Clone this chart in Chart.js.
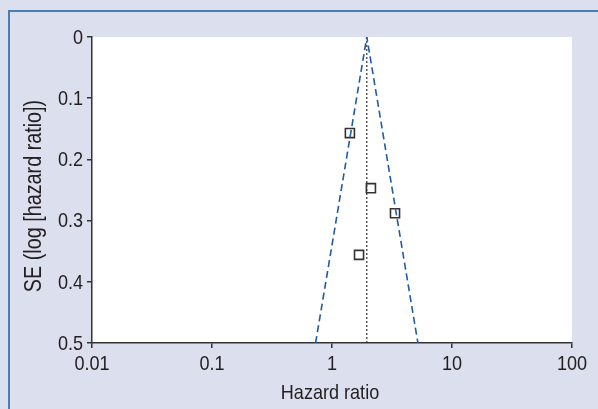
<!DOCTYPE html>
<html>
<head>
<meta charset="utf-8">
<script src="https://cdn.jsdelivr.net/npm/chart.js@4.4.1/dist/chart.umd.min.js"></script>
<style>
  html, body { margin: 0; padding: 0; background: #dcdfee; }
  canvas { display: block; }
</style>
</head>
<body>
<canvas id="myChart" width="598" height="409"></canvas>
<script>
// study points: hazard ratio and its standard error
const hazardRatios = [1.41, 2.11, 3.35, 1.68];
const standardErrors = [0.157, 0.247, 0.288, 0.356];

// pooled estimate and the funnel limits at SE = 0.5
const pooledHR = 1.95;
const funnelLeftHR = 0.73;
const funnelRightHR = 5.2;
const seTop = 0;
const seBottom = 0.5;

const xTicks = [0.01, 0.1, 1, 10, 100];
const xTickLabels = ['0.01', '0.1', '1', '10', '100'];
const yTicks = [0, 0.1, 0.2, 0.3, 0.4, 0.5];
const yTickLabels = ['0', '0.1', '0.2', '0.3', '0.4', '0.5'];
const xTitle = 'Hazard ratio';
const yTitle = 'SE (log [hazard ratio])';

const textColour = '#231f20';
const narrow = 0.86; // squeeze the sans face so it reads like a condensed one

// draws text squeezed horizontally, with (x, y) as the anchor
function narrowText(ctx, text, x, y, align, baseline, size, angle) {
  ctx.save();
  ctx.translate(x, y);
  if (angle) ctx.rotate(angle);
  ctx.scale(narrow, 1);
  ctx.font = size + 'px "Liberation Sans", Arial, sans-serif';
  ctx.fillStyle = textColour;
  ctx.textAlign = align;
  ctx.textBaseline = baseline;
  ctx.fillText(text, 0, 0);
  ctx.restore();
}

const background = {
  id: 'background-colour',
  beforeDraw: (chart) => {
    const ctx = chart.ctx;
    const a = chart.chartArea;
    ctx.save();
    ctx.fillStyle = '#dcdfee';
    ctx.fillRect(0, 0, chart.width, chart.height);
    ctx.strokeStyle = '#4a7cb6';
    ctx.lineWidth = 2;
    ctx.beginPath();
    ctx.moveTo(9, chart.height);
    ctx.lineTo(9, 11);
    ctx.lineTo(chart.width, 11);
    ctx.stroke();
    ctx.fillStyle = '#ffffff';
    ctx.fillRect(a.left, a.top, a.right - a.left, a.bottom - a.top);
    ctx.restore();
  }
};

const labels = {
  id: 'axis-labels',
  afterDraw: (chart) => {
    const ctx = chart.ctx;
    const xs = chart.scales.x;
    const ys = chart.scales.y;
    const a = chart.chartArea;
    xTicks.forEach((v, i) => {
      narrowText(ctx, xTickLabels[i], xs.getPixelForValue(v), a.bottom + 27, 'center', 'alphabetic', 21);
    });
    yTicks.forEach((v, i) => {
      narrowText(ctx, yTickLabels[i], a.left - 9, ys.getPixelForValue(v) + 1, 'right', 'middle', 21);
    });
    narrowText(ctx, xTitle, (a.left + a.right) / 2 - 2, a.bottom + 56, 'center', 'alphabetic', 21);
    narrowText(ctx, yTitle, 41, (a.top + a.bottom) / 2 + 6, 'center', 'alphabetic', 23, -Math.PI / 2);
  }
};

new Chart(document.getElementById('myChart'), {
  type: 'scatter',
  data: {
    datasets: [
      {
        label: 'funnel',
        type: 'line',
        data: [
          { x: funnelLeftHR, y: seBottom },
          { x: pooledHR, y: seTop },
          { x: funnelRightHR, y: seBottom }
        ],
        borderColor: '#1f5ba6',
        borderWidth: 1.6,
        borderDash: [7, 4],
        pointRadius: 0,
        fill: false,
        tension: 0
      },
      {
        label: 'pooled',
        type: 'line',
        data: [
          { x: pooledHR, y: seTop },
          { x: pooledHR, y: seBottom }
        ],
        borderColor: '#333333',
        borderWidth: 1.2,
        borderDash: [2, 2],
        pointRadius: 0,
        fill: false
      },
      {
        label: 'studies',
        data: hazardRatios.map((hr, i) => ({ x: hr, y: standardErrors[i] })),
        pointStyle: 'rect',
        pointRadius: 6.4,
        pointBorderWidth: 1.6,
        pointBorderColor: '#333333',
        pointBackgroundColor: '#ffffff'
      }
    ]
  },
  options: {
    responsive: false,
    animation: false,
    devicePixelRatio: 1,
    layout: { padding: { top: 37, right: 26, left: 0, bottom: 0 } },
    plugins: {
      legend: { display: false },
      tooltip: { enabled: false }
    },
    scales: {
      x: {
        type: 'logarithmic',
        min: 0.01,
        max: 100,
        afterBuildTicks: (scale) => {
          scale.ticks = xTicks.map(v => ({ value: v }));
        },
        afterFit: (scale) => { scale.height = 66; },
        border: { display: true, color: '#333333', width: 1.5 },
        grid: { drawOnChartArea: false, drawTicks: true, tickLength: 5, color: '#333333', lineWidth: 1.5 },
        ticks: { display: false }
      },
      y: {
        type: 'linear',
        reverse: true,
        min: 0,
        max: 0.5,
        afterBuildTicks: (scale) => {
          scale.ticks = yTicks.map(v => ({ value: v }));
        },
        afterFit: (scale) => { scale.width = 92; },
        border: { display: true, color: '#333333', width: 1.5 },
        grid: { drawOnChartArea: false, drawTicks: true, tickLength: 5, color: '#333333', lineWidth: 1.5 },
        ticks: { display: false }
      }
    }
  },
  plugins: [background, labels]
});
</script>
</body>
</html>
